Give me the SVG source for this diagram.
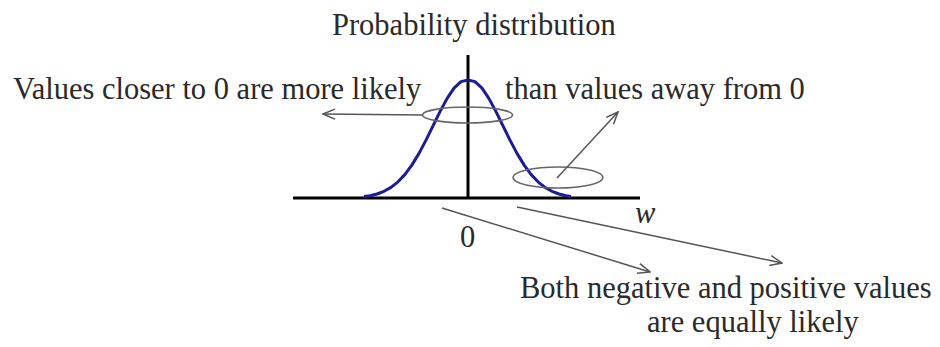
<svg xmlns="http://www.w3.org/2000/svg" width="940" height="347" viewBox="0 0 940 347">
<defs>
<style>
.t{font-family:"Liberation Serif","Times New Roman",serif;font-size:30.5px;fill:#2a2a2a}
.ax{stroke:#000;stroke-width:3;fill:none}
.cv{stroke:#1c1c94;stroke-width:3;fill:none;stroke-linejoin:round}
.el{stroke:#666;stroke-width:1.6;fill:none}
.ar{stroke:#555;stroke-width:1.5;fill:none;marker-end:url(#ah)}
</style>
<marker id="ah" markerWidth="14" markerHeight="12" refX="13" refY="6" orient="auto" markerUnits="userSpaceOnUse">
<path d="M1,1 L13,6 L1,11" fill="none" stroke="#555" stroke-width="1.5"/>
</marker>
</defs>
<rect width="940" height="347" fill="#fff"/>
<g id="title"><text class="t" x="332" y="35">Probability distribution</text></g>
<g id="axes">
<line class="ax" x1="293" y1="198" x2="640" y2="198"/>
<line class="ax" x1="468" y1="55" x2="468" y2="198"/>
<text class="t" x="460" y="247">0</text>
<text class="t" x="635" y="223" font-style="italic">w</text>
</g>
<g id="curve">
<path class="cv" d="M364,196.6 L370,195.7 377,194 384,191.3 391,187.4 398,181.8 405,174.4 412,164.9 419,153.4 426,140.1 433,125.9 440,111.6 447,98.6 454,88.1 461,81.6 468,80 475,81.6 482,88.1 489,98.6 496,111.6 503,125.9 510,140.1 517,153.4 524,164.9 531,174.4 538,181.8 545,187.4 552,191.3 559,194 566,195.7 571,196.6"/>
</g>
<g id="center-region"><ellipse class="el" cx="467.5" cy="115" rx="45" ry="8"/></g>
<g id="tail-region"><ellipse class="el" cx="558" cy="177.5" rx="45" ry="10.5"/></g>
<g id="label-left"><text class="t" x="13" y="99">Values closer to 0 are more likely</text></g>
<g id="label-right"><text class="t" x="505" y="99">than values away from 0</text></g>
<g id="label-bottom">
<text class="t" x="520" y="298">Both negative and positive values</text>
<text class="t" x="647" y="332">are equally likely</text>
</g>
<g id="connectors">
<line class="ar" x1="422" y1="115" x2="323" y2="114"/>
<line class="ar" x1="557" y1="178" x2="618" y2="112"/>
<line class="ar" x1="442" y1="208" x2="650" y2="272"/>
<line class="ar" x1="517" y1="207" x2="782" y2="263"/>
</g>
</svg>
